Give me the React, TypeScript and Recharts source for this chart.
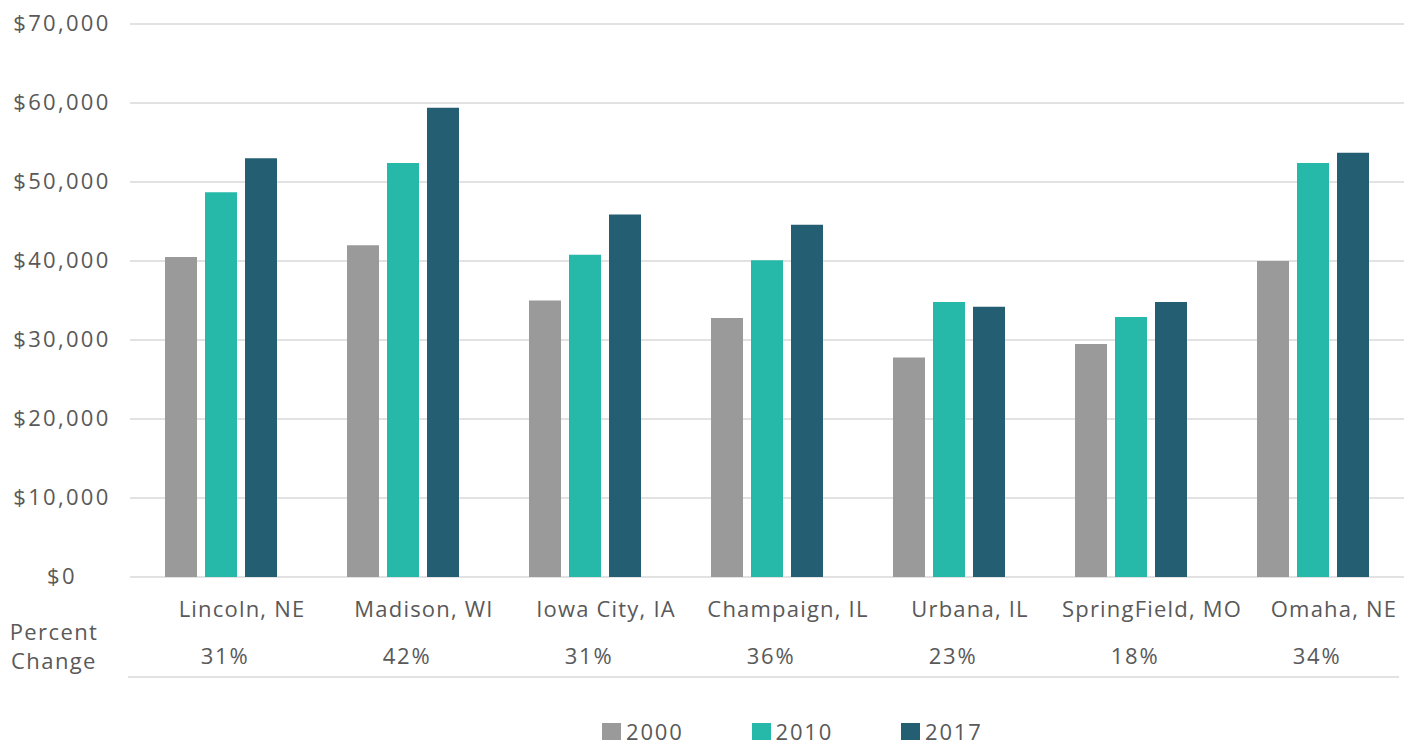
import React from 'react';
import { BarChart, Bar, XAxis, YAxis, CartesianGrid, Legend } from 'recharts';

const cities = ['Lincoln, NE', 'Madison, WI', 'Iowa City, IA', 'Champaign, IL', 'Urbana, IL', 'SpringField, MO', 'Omaha, NE'];
const income2000 = [40500, 42000, 35000, 32800, 27800, 29500, 40000];
const income2010 = [48700, 52400, 40800, 40100, 34800, 32900, 52400];
const income2017 = [53000, 59400, 45900, 44600, 34200, 34800, 53700];
const percentChange = ['31%', '42%', '31%', '36%', '23%', '18%', '34%'];
const yTicks = [0, 10000, 20000, 30000, 40000, 50000, 60000, 70000];

const data = cities.map((city, i) => ({
  city,
  pct: percentChange[i],
  y2000: income2000[i],
  y2010: income2010[i],
  y2017: income2017[i],
}));

const TEXT = '#595959';
const FONT = '"Open Sans", sans-serif';

const YTick = ({ x = 0, y = 0, payload }: any) => (
  <text x={x - 60} y={y + 7} textAnchor="middle" fill={TEXT} fontFamily={FONT} fontSize={22} letterSpacing={2.3}>
    {'$' + Number(payload.value).toLocaleString('en-US')}
  </text>
);

const XTick = ({ x = 0, y = 0, payload, index }: any) => (
  <g>
    <text x={x + 21} y={y + 32} textAnchor="middle" fill={TEXT} fontFamily={FONT} fontSize={22} letterSpacing={1.2}>
      {payload.value}
    </text>
    <text x={x + 4} y={y + 79} textAnchor="middle" fill={TEXT} fontFamily={FONT} fontSize={22} letterSpacing={1.8}>
      {percentChange[index]}
    </text>
  </g>
);

const TableLabel = ({ viewBox }: any) => {
  const { x = 0, y = 0, width = 0, height = 0 } = viewBox || {};
  return (
    <g>
      <text x={54} y={y + 63} textAnchor="middle" fill={TEXT} fontFamily={FONT} fontSize={22} letterSpacing={1.4}>
        Percent
      </text>
      <text x={54} y={y + 92} textAnchor="middle" fill={TEXT} fontFamily={FONT} fontSize={22} letterSpacing={1.4}>
        Change
      </text>
      <line x1={x - 2} x2={x + width - 5} y1={y + height} y2={y + height} stroke="#d9d9d9" strokeWidth={1.5} />
    </g>
  );
};

const LegendContent = ({ payload }: any) => (
  <div style={{ height: 68, width: 1416, display: 'flex', alignItems: 'center', paddingTop: 40, paddingLeft: 602, boxSizing: 'border-box', gap: 68 }}>
    {(payload || []).map((p: any) => (
      <div key={p.value} style={{ display: 'flex', alignItems: 'center' }}>
        <span style={{ width: 19, height: 17, background: p.color, display: 'inline-block', marginRight: 5 }} />
        <span style={{ color: TEXT, fontFamily: FONT, fontSize: 22, letterSpacing: 1.8, lineHeight: '26px' }}>{p.value}</span>
      </div>
    ))}
  </div>
);

export default function App() {
  return (
    <div style={{ position: 'absolute', left: 0, top: 0, width: 1416, height: 745, background: '#fff' }}>
      <BarChart
        width={1416}
        height={745}
        data={data}
        margin={{ top: 24, right: 12, bottom: 0, left: 2 }}
        barSize={32}
        barGap={8}
      >
        <CartesianGrid vertical={false} stroke="#d9d9d9" strokeWidth={1.5} />
        <YAxis
          width={128}
          domain={[0, 70000]}
          ticks={yTicks}
          axisLine={false}
          tickLine={false}
          tick={<YTick />}
          interval={0}
        />
        <XAxis
          dataKey="city"
          height={100}
          axisLine={false}
          tickLine={false}
          interval={0}
          tick={<XTick />}
          label={<TableLabel />}
        />
        <Legend
          verticalAlign="bottom"
          content={<LegendContent />}
          wrapperStyle={{ left: 0, bottom: 0, width: 1416 }}
        />
        <Bar dataKey="y2000" name="2000" fill="#9a9a9a" isAnimationActive={false} />
        <Bar dataKey="y2010" name="2010" fill="#26b8a8" isAnimationActive={false} />
        <Bar dataKey="y2017" name="2017" fill="#245e73" isAnimationActive={false} />
      </BarChart>
    </div>
  );
}
